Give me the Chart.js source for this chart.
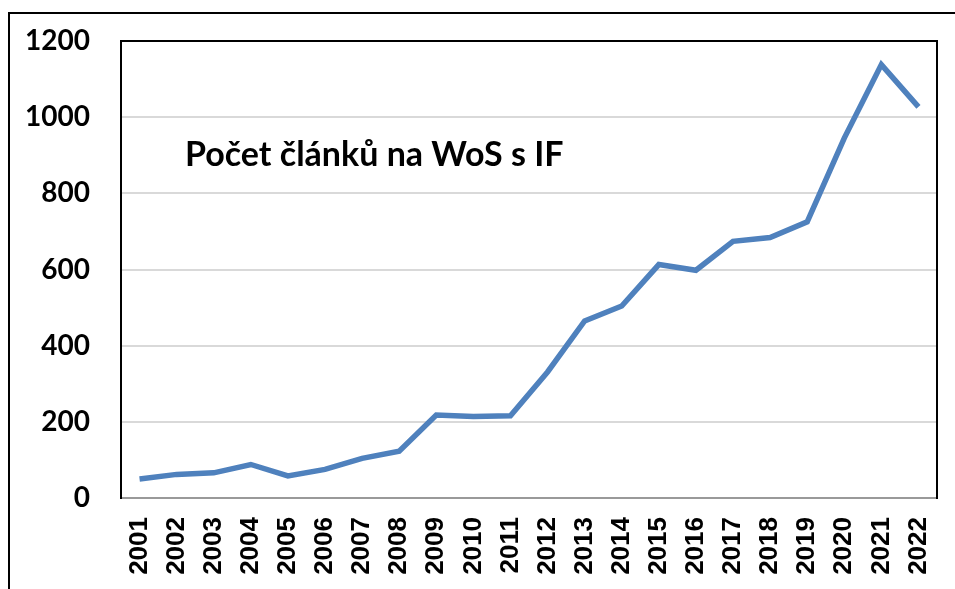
<!DOCTYPE html>
<html>
<head>
<meta charset="utf-8">
<script src="https://cdn.jsdelivr.net/npm/chart.js@4/dist/chart.umd.min.js"></script>
<style>
  html, body { margin: 0; padding: 0; background: #fff; }
  #wrap { position: relative; width: 955px; height: 589px; overflow: hidden; }
  #frame { position: absolute; left: 8px; top: 12px; width: 1000px; height: 700px;
           border-left: 2px solid #000; border-top: 2px solid #000; }
  canvas { position: absolute; left: 0; top: 0; }
</style>
</head>
<body>
<div id="wrap">
  <div id="frame"></div>
  <canvas id="myChart" width="955" height="589"></canvas>
</div>
<script>
// Počet článků na WoS s IF
const years = ["2001", "2002", "2003", "2004", "2005", "2006", "2007", "2008", "2009", "2010", "2011",
  "2012", "2013", "2014", "2015", "2016", "2017", "2018", "2019", "2020", "2021", "2022"];
const articles = [50, 62, 66, 88, 58, 75, 104, 123, 218, 214, 216,
  331, 465, 504, 613, 598, 674, 684, 725, 945, 1138, 1027];
const yTicks = [0, 200, 400, 600, 800, 1000, 1200];
const titleText = "Počet článků na WoS s IF";

// frame around plot area + title inside
const plotFrame = {
  id: "plotFrame",
  afterDraw(chart) {
    const { ctx, chartArea: a } = chart;
    ctx.save();
    ctx.strokeStyle = "#000";
    ctx.lineWidth = 2;
    ctx.beginPath();
    ctx.moveTo(a.left, a.bottom);
    ctx.lineTo(a.left, a.top);
    ctx.lineTo(a.right, a.top);
    ctx.lineTo(a.right, a.bottom + 1);
    ctx.stroke();
    ctx.fillStyle = "#000";
    ctx.font = "bold 34px Lato";
    ctx.textBaseline = "alphabetic";
    ctx.fillText(titleText, 185, 166);
    ctx.restore();
  },
};

const area = document.querySelector("#myChart");
const myChart = new Chart(area, {
  type: "line",
  data: {
    labels: years,
    datasets: [
      {
        data: articles,
        borderColor: "#4F81BD",
        borderWidth: 5.5,
        pointRadius: 0,
        tension: 0,
      },
    ],
  },
  options: {
    responsive: false,
    animation: false,
    layout: { padding: { left: 0, top: 41, right: 18, bottom: 0 } },
    plugins: {
      legend: { display: false },
      tooltip: { enabled: false },
    },
    scales: {
      x: {
        offset: true,
        afterFit: (s) => { s.height = 91; s.paddingLeft = 0; s.paddingRight = 0; },
        grid: { display: false, drawTicks: false },
        border: { color: "#999", width: 2 },
        ticks: {
          color: "#000",
          font: { family: "Liberation Sans", weight: "bold", size: 26 },
          maxRotation: 90,
          minRotation: 90,
          padding: 19,
          autoSkip: false,
        },
      },
      y: {
        min: 0,
        max: 1200,
        afterFit: (s) => { s.width = 121; s.paddingTop = 0; s.paddingBottom = 0; },
        afterBuildTicks: (s) => { s.ticks = yTicks.map((v) => ({ value: v })); },
        grid: { color: "#d9d9d9", lineWidth: 2, drawTicks: false },
        border: { color: "#000", width: 2 },
        ticks: {
          color: "#000",
          font: { family: "Lato", weight: "bold", size: 28 },
          padding: 31,
          callback: (v) => String(v),
        },
      },
    },
  },
  plugins: [plotFrame],
});
</script>
</body>
</html>
